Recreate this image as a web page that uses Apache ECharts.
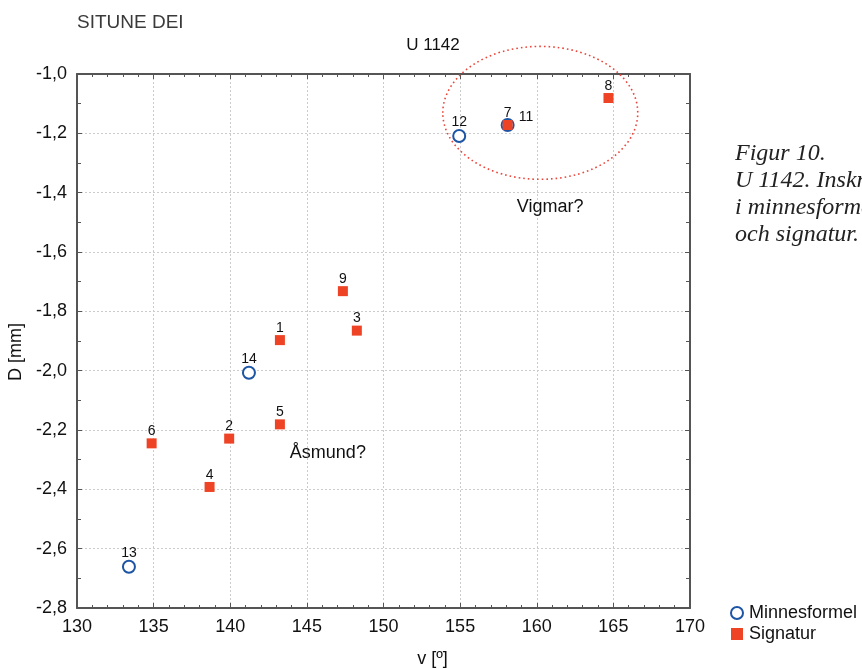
<!DOCTYPE html>
<html>
<head>
<meta charset="utf-8">
<script src="https://cdn.jsdelivr.net/npm/echarts@6/dist/echarts.min.js"></script>
<style>
  html, body { margin: 0; padding: 0; background: #fff; }
  #chart { width: 862px; height: 669px; }
</style>
</head>
<body>
<div id="chart"></div>
<script>
// Minnesformel (hollow circles): [v, D, id]
var minnesformel = [
  [154.94, -1.209, '12'],
  [158.10, -1.172, '11'],
  [141.22, -2.007, '14'],
  [133.39, -2.661, '13']
];
// Signatur (red squares): [v, D, id]
var signatur = [
  [143.24, -1.897, '1'],
  [139.93, -2.229, '2'],
  [148.26, -1.865, '3'],
  [138.65, -2.392, '4'],
  [143.24, -2.181, '5'],
  [134.87, -2.245, '6'],
  [158.10, -1.172, '7'],
  [164.68, -1.081, '8'],
  [147.35, -1.732, '9']
];
// group ellipse: [centre v, centre D, half width v, half height D]
var groupEllipse = [[160.23, -1.131, 6.36, 0.224]];
// free text notes: [v, D, text]
var notes = [
  [160.87, -1.450, 'Vigmar?'],
  [146.37, -2.276, 'Åsmund?']
];
var caption = ['Figur 10.', 'U 1142. Inskrifter', 'i minnesformel', 'och signatur.'];

var chart = echarts.init(document.getElementById('chart'));

var pointLabel = function (p) { return p.value[2]; };

var option = {
  animation: false,
  textStyle: { fontFamily: 'Liberation Sans, Arial, sans-serif' },
  title: [
    {
      text: 'SITUNE DEI',
      left: 77, top: 13, padding: 0,
      textStyle: { fontSize: 19, fontWeight: 'normal', color: '#3a3a3a' }
    },
    {
      text: 'U 1142',
      left: 433, top: 37, padding: 0, textAlign: 'center',
      textStyle: { fontSize: 17, fontWeight: 'normal', color: '#111' }
    }
  ],
  grid: { left: 77, right: 172, top: 74, bottom: 61, outerBoundsMode: 'none' },
  legend: {
    orient: 'vertical',
    left: 725, top: 599,
    itemWidth: 12, itemHeight: 12, itemGap: 3,
    textStyle: { fontSize: 18, color: '#111', padding: [0, 0, 0, 1] },
    data: ['Minnesformel', 'Signatur']
  },
  xAxis: [
    {
      type: 'value', min: 130, max: 170, interval: 5,
      name: 'v [º]', nameLocation: 'middle', nameGap: 42,
      nameTextStyle: { fontSize: 18, color: '#111', padding: [0, 0, 0, 98] },
      axisLine: { lineStyle: { color: '#555', width: 2 } },
      axisTick: { inside: true, length: 5, lineStyle: { color: '#555' } },
      minorTick: { show: true, splitNumber: 5, length: 3, lineStyle: { color: '#555' } },
      axisLabel: { fontSize: 18, color: '#111', margin: 10 },
      splitLine: { show: true, lineStyle: { color: '#ccc', type: [2, 2] } }
    },
    {
      type: 'value', min: 130, max: 170, interval: 5, position: 'top',
      axisLine: { lineStyle: { color: '#555', width: 2 } },
      axisTick: { inside: true, length: 5, lineStyle: { color: '#555' } },
      minorTick: { show: true, splitNumber: 5, length: 3, lineStyle: { color: '#555' } },
      axisLabel: { show: false },
      splitLine: { show: false }
    }
  ],
  yAxis: [
    {
      type: 'value', min: -2.8, max: -1.0, interval: 0.2,
      name: 'D [mm]', nameLocation: 'middle', nameGap: 50,
      nameTextStyle: { fontSize: 18, color: '#111', padding: [0, 22, 0, 0] },
      axisLine: { lineStyle: { color: '#555', width: 2 } },
      axisTick: { inside: true, length: 5, lineStyle: { color: '#555' } },
      minorTick: { show: true, splitNumber: 2, length: 4, lineStyle: { color: '#555' } },
      axisLabel: {
        fontSize: 18, color: '#111', margin: 10,
        formatter: function (v) { return v.toFixed(1).replace('.', ','); }
      },
      splitLine: { show: true, lineStyle: { color: '#ccc', type: [2, 2] } }
    },
    {
      type: 'value', min: -2.8, max: -1.0, interval: 0.2, position: 'right',
      axisLine: { lineStyle: { color: '#555', width: 2 } },
      axisTick: { inside: true, length: 5, lineStyle: { color: '#555' } },
      minorTick: { show: true, splitNumber: 2, length: 4, lineStyle: { color: '#555' } },
      axisLabel: { show: false },
      splitLine: { show: false }
    }
  ],
  series: [
    {
      name: 'Minnesformel',
      type: 'scatter',
      symbol: 'circle', symbolSize: 12,
      itemStyle: { color: '#fff', borderColor: '#1d55a5', borderWidth: 2, opacity: 1 },
      label: {
        show: true, position: 'top', distance: 0,
        fontSize: 14, color: '#111', formatter: pointLabel
      },
      data: minnesformel.map(function (d) {
        var item = { value: d };
        // "11" sits on the same spot as "7", so its label goes to the right
        if (d[2] === '11') item.label = { position: 'right', distance: 4, offset: [0, -8] };
        return item;
      }),
      z: 3
    },
    {
      name: 'Signatur',
      type: 'scatter',
      symbol: 'rect', symbolSize: 10,
      itemStyle: { color: '#ee4324', opacity: 1 },
      label: {
        show: true, position: 'top', distance: 0,
        fontSize: 14, color: '#111', formatter: pointLabel
      },
      data: signatur,
      z: 4
    },
    {
      name: 'ellipse',
      type: 'custom',
      clip: false,
      silent: true,
      data: groupEllipse,
      encode: { x: 0, y: 1 },
      renderItem: function (params, api) {
        var c = api.coord([api.value(0), api.value(1)]);
        var s = api.size([api.value(2), api.value(3)]);
        return {
          type: 'ellipse',
          shape: { cx: c[0], cy: c[1], rx: s[0], ry: s[1] },
          style: { fill: 'none', stroke: '#e9453a', lineWidth: 1.6, lineDash: [1.6, 3] }
        };
      },
      z: 2
    },
    {
      name: 'notes',
      type: 'custom',
      silent: true,
      data: notes,
      encode: { x: 0, y: 1 },
      renderItem: function (params, api) {
        var c = api.coord([api.value(0), api.value(1)]);
        return {
          type: 'text',
          x: c[0], y: c[1],
          style: {
            text: notes[params.dataIndex][2],
            fontSize: 18, fontFamily: 'Liberation Sans, Arial, sans-serif',
            fill: '#111', align: 'center', verticalAlign: 'middle'
          }
        };
      },
      z: 5
    }
  ],
  graphic: [
    {
      type: 'text',
      left: 735, top: 140,
      style: {
        text: caption.join('\n'),
        font: 'italic 24px "Liberation Serif", "DejaVu Serif", serif',
        lineHeight: 27,
        fill: '#222'
      }
    }
  ]
};

chart.setOption(option);
</script>
</body>
</html>
